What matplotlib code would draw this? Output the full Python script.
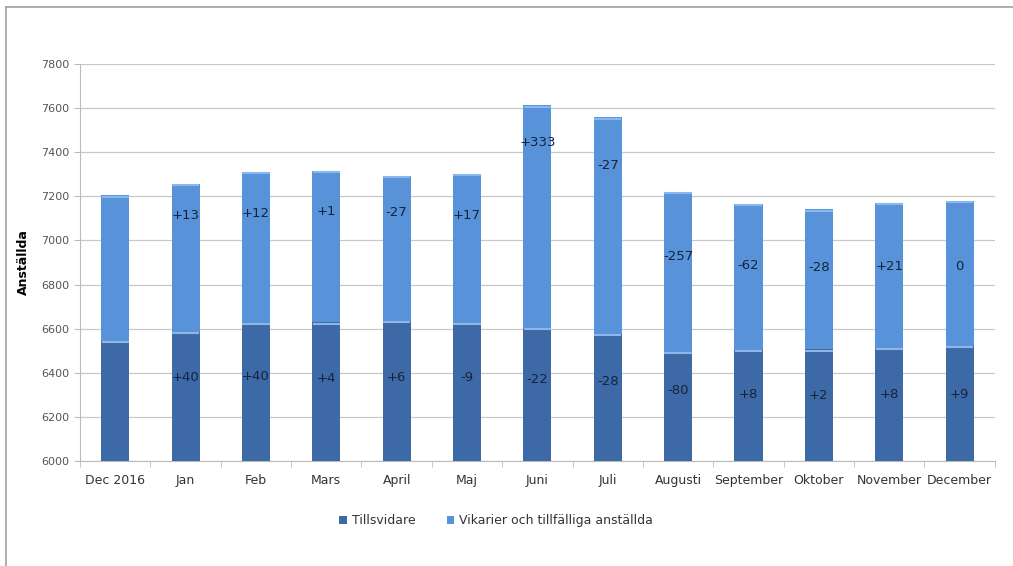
import numpy as np
import matplotlib.pyplot as plt
from matplotlib.lines import Line2D

# Data
months = ["Dec 2016", "Jan", "Feb", "Mars", "April", "Maj", "Juni", "Juli",
          "Augusti", "September", "Oktober", "November", "December"]
tillsvidare = [6545, 6585, 6625, 6629, 6635, 6626, 6604, 6576, 6496, 6504, 6506, 6514, 6523]
vikarier = [660, 673, 685, 686, 659, 676, 1009, 982, 725, 663, 635, 656, 656]
till_labels = ["", "+40", "+40", "+4", "+6", "-9", "-22", "-28", "-80", "+8", "+2", "+8", "+9"]
vik_labels = ["", "+13", "+12", "+1", "-27", "+17", "+333", "-27", "-257", "-62", "-28", "+21", "0"]

# label heights (where the text sits inside each segment)
till_label_y = [0, 6380, 6385, 6375, 6380, 6380, 6370, 6360, 6320, 6300, 6295, 6300, 6300]
vik_label_y = [0, 7115, 7120, 7130, 7125, 7115, 7445, 7340, 6925, 6885, 6875, 6880, 6880]

dark = "#3d6aa6"
light = "#5893da"

fig = plt.figure(figsize=(10.13, 5.66), dpi=100)
ax = fig.add_axes([0.079, 0.1855, 0.903, 0.7015])

x = np.arange(len(months))
w = 0.4
ax.bar(x, tillsvidare, width=w, color=dark, label="Tillsvidare", zorder=3)
ax.bar(x, vikarier, width=w, bottom=tillsvidare, color=light,
       label="Vikarier och tillfälliga anställda", zorder=3)

# light bevel line on top of each segment
tops = np.array(tillsvidare) + np.array(vikarier)
for xi, t1, t2 in zip(x, tillsvidare, tops):
    ax.plot([xi - w / 2 + 0.02, xi + w / 2 - 0.02], [t1 - 6, t1 - 6], color="#8fb6e6", lw=1.5, zorder=4)
    ax.plot([xi - w / 2 + 0.02, xi + w / 2 - 0.02], [t2 - 6, t2 - 6], color="#8ab8ee", lw=1.5, zorder=4)

for xi, lab, ly in zip(x, till_labels, till_label_y):
    if lab:
        ax.text(xi, ly, lab, ha="center", va="center", fontsize=9.5, color="#15233a", zorder=5)
for xi, lab, ly in zip(x, vik_labels, vik_label_y):
    if lab:
        ax.text(xi, ly, lab, ha="center", va="center", fontsize=9.5, color="#15233a", zorder=5)

ax.set_ylim(6000, 7800)
ax.set_xlim(-0.5, len(months) - 0.5)
ax.set_yticks(np.arange(6000, 7801, 200))
ax.tick_params(axis="y", labelsize=8, colors="#555555", length=4, width=0.8)
ax.tick_params(axis="y", color="#bbbbbb")
ax.set_xticks(x)
ax.set_xticklabels(months, fontsize=9, color="#333333")
ax.tick_params(axis="x", length=0, pad=9)
# minor ticks between categories
ax.set_xticks(np.arange(-0.5, len(months), 1), minor=True)
ax.tick_params(axis="x", which="minor", length=4, color="#bbbbbb")

ax.grid(axis="y", color="#c8c8c8", lw=0.9, zorder=0)
for s in ["top", "right"]:
    ax.spines[s].set_visible(False)
ax.spines["left"].set_color("#bbbbbb")
ax.spines["bottom"].set_color("#bbbbbb")

ax.set_ylabel("Anställda", fontsize=9, fontweight="bold", labelpad=8)

ax.legend(loc="upper center", bbox_to_anchor=(0.455, -0.105), ncol=2, frameon=False,
          fontsize=9, handlelength=0.6, handleheight=0.6, handletextpad=0.4,
          columnspacing=2.5, labelcolor="#333333")

# outer chart frame (only left and top edges show)
fig.add_artist(Line2D([0.006, 0.006], [0.0, 0.988], color="#a0a0a0", lw=1.2))
fig.add_artist(Line2D([0.006, 1.0], [0.988, 0.988], color="#a0a0a0", lw=1.2))

fig.savefig("out.png", dpi=100)
